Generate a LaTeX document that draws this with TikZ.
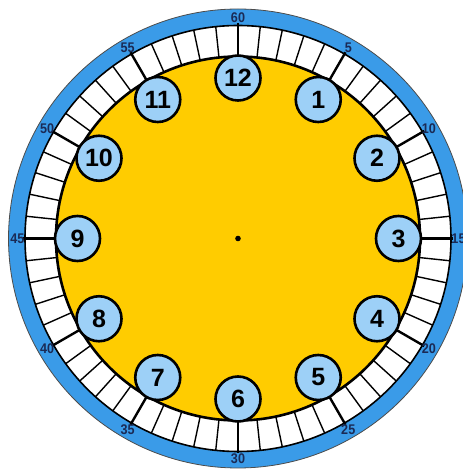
\documentclass[tikz,border=0pt]{standalone}
\usepackage{fontspec}
\setmainfont{Liberation Sans}
\usetikzlibrary{calc}
\definecolor{ringblue}{HTML}{3A9BE8}
\definecolor{faceyellow}{HTML}{FFCC00}
\definecolor{hourblue}{HTML}{9DD0F7}
\definecolor{labelnavy}{HTML}{1A2A55}
\begin{document}
\begin{tikzpicture}[x=1pt,y=1pt,
  hourcirc/.style={circle,draw=black,line width=2.6pt,fill=hourblue,minimum size=45pt,inner sep=0pt,font=\fontsize{25}{25}\selectfont\bfseries},
  minlabel/.style={font=\fontsize{14}{14}\selectfont\bfseries,text=labelnavy,inner sep=0pt,xscale=0.9},
  minortick/.style={line width=1.4pt,black},
  majortick/.style={line width=2.4pt,black}]
\useasboundingbox (0,0) rectangle (463,474);
\coordinate (c) at (238,235.5);
% outer blue ring
\fill[ringblue] (c) circle (229.5);
\draw[black!70,line width=0.8pt] (c) circle (229.5);
\fill[white] (c) circle (213);
\draw[black,line width=1.6pt] (c) circle (213);
% yellow face
\fill[faceyellow] (c) circle (182);
% ticks
\foreach \i in {0,...,59}{
  \pgfmathtruncatemacro{\m}{mod(\i,5)}
  \ifnum\m=0
    \draw[majortick] ($(c)+(90-\i*6:182)$) -- ($(c)+(90-\i*6:215)$);
  \else
    \draw[minortick] ($(c)+(90-\i*6:182)$) -- ($(c)+(90-\i*6:213)$);
  \fi
}
\draw[black,line width=2.6pt] (c) circle (182);
% minute labels
\foreach \v [count=\k from 0] in {60,5,10,15,20,25,30,35,40,45,50,55}{
  \node[minlabel] (ml\k) at ($(c)+(90-\k*30:220.5)$) {\v};
}
% hour circles
\foreach \h in {1,...,12}{
  \node[hourcirc] (h\h) at ($(c)+(90-\h*30:160.5)$) {\h};
}
% center dot
\fill[black] (c) circle (2.8);
\end{tikzpicture}
\end{document}
